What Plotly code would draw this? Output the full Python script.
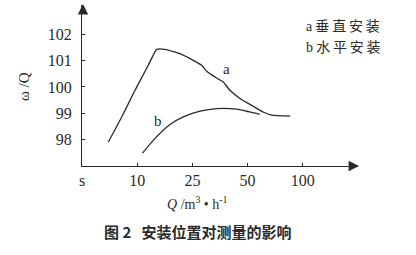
import plotly.graph_objects as go

# x positions on the (non-uniform) category axis: 0='s',1=10,2=25,3=50,4=100
tick_pos = [0, 1, 2, 3, 4]
tick_text = ["s", "10", "25", "50", "100"]
y_ticks = [98, 99, 100, 101, 102]

a_x = [0.477, 0.72, 0.96, 1.20, 1.353, 1.504, 1.775, 2.016, 2.168, 2.259, 2.44, 2.56, 2.68, 2.86, 3.10, 3.28, 3.44, 3.77]
a_y = [97.89, 98.85, 99.87, 100.83, 101.44, 101.44, 101.28, 101.02, 100.83, 100.60, 100.34, 100.19, 99.87, 99.56, 99.26, 99.04, 98.92, 98.88]

b_x = [1.096, 1.32, 1.594, 1.835, 2.138, 2.44, 2.80, 3.04, 3.22]
b_y = [97.46, 98.02, 98.56, 98.85, 99.07, 99.17, 99.15, 99.04, 98.95]

serif = "Liberation Serif"
cjk = "Noto Sans CJK SC"
ink = "#2a2a2a"

fig = go.Figure()
fig.add_trace(go.Scatter(x=a_x, y=a_y, mode="lines",
                         line=dict(color=ink, width=1.3, shape="spline", smoothing=0.4)))
fig.add_trace(go.Scatter(x=b_x, y=b_y, mode="lines",
                         line=dict(color=ink, width=1.3, shape="spline", smoothing=0.8)))

W, H = 416, 255
L, R, T, B = 82, 58, 5, 89

fig.update_layout(
    width=W, height=H,
    margin=dict(l=L, r=R, t=T, b=B),
    paper_bgcolor="white", plot_bgcolor="white",
    showlegend=False,
    xaxis=dict(range=[0, 5], tickvals=tick_pos, ticktext=tick_text,
               showgrid=False, zeroline=False, showline=True, linecolor=ink, linewidth=1.3,
               ticks="inside", ticklen=3, tickcolor=ink,
               tickfont=dict(family=serif, size=16, color=ink)),
    yaxis=dict(range=[96.97, 103.14], tickvals=y_ticks,
               showgrid=False, zeroline=False, showline=True, linecolor=ink, linewidth=1.3,
               ticks="inside", ticklen=3, tickcolor=ink, ticklabelstandoff=6,
               tickfont=dict(family=serif, size=16, color=ink)),
)

def px(xp):
    return (xp - L) / (W - L - R)

def py(yp):
    return (H - B - yp) / (H - T - B)

sp = "\u2009"
annots = [
    # curve labels
    dict(x=2.62, y=100.70, xref="x", yref="y", text="a", showarrow=False,
         font=dict(family=serif, size=15, color=ink)),
    dict(x=1.38, y=98.69, xref="x", yref="y", text="b", showarrow=False,
         font=dict(family=serif, size=15, color=ink)),
    # legend text
    dict(x=px(304), y=py(25), xref="paper", yref="paper", xanchor="left", yanchor="middle",
         text="<span style='font-family:Liberation Serif'>a</span> " + sp.join("垂直安装"),
         showarrow=False, font=dict(family=cjk, size=14, color=ink)),
    dict(x=px(304), y=py(46), xref="paper", yref="paper", xanchor="left", yanchor="middle",
         text="<span style='font-family:Liberation Serif'>b</span> " + sp.join("水平安装"),
         showarrow=False, font=dict(family=cjk, size=14, color=ink)),
    # y title
    dict(x=px(24), y=py(87), xref="paper", yref="paper", xanchor="center", yanchor="middle",
         text="ω /Q", textangle=-90,
         showarrow=False, font=dict(family=serif, size=15, color=ink)),
    # x title
    dict(x=px(197), y=py(203), xref="paper", yref="paper", xanchor="center", yanchor="middle",
         text="<i>Q</i> /m<sup>3</sup> • h<sup>-1</sup>", showarrow=False,
         font=dict(family=serif, size=14, color=ink)),
    # caption
    dict(x=px(197), y=py(231), xref="paper", yref="paper", xanchor="center", yanchor="middle",
         text="<b>图 2   安装位置对测量的影响</b>", showarrow=False,
         font=dict(family=cjk, size=15, color=ink)),
    # axis arrows
    dict(x=px(83), y=py(4), ax=0, ay=10, xref="paper", yref="paper",
         axref="pixel", ayref="pixel", text="", showarrow=True,
         arrowhead=2, arrowsize=1.6, arrowwidth=1.3, arrowcolor=ink),
    dict(x=px(359), y=py(166), ax=-10, ay=0, xref="paper", yref="paper",
         axref="pixel", ayref="pixel", text="", showarrow=True,
         arrowhead=2, arrowsize=1.6, arrowwidth=1.3, arrowcolor=ink),
]
fig.update_layout(annotations=annots)

fig.write_html("out.html")
